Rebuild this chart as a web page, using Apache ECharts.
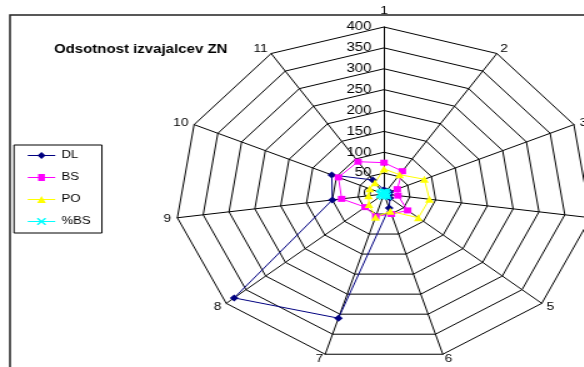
<!DOCTYPE html>
<html>
<head>
<meta charset="utf-8">
<script src="https://cdn.jsdelivr.net/npm/echarts@6/dist/echarts.min.js"></script>
<style>
  html, body { margin: 0; padding: 0; background: #fff; overflow: hidden; width: 584px; height: 367px; }
  /* the original picture is stretched sideways, so the whole chart is too */
  #chart { position: absolute; left: 0; top: 0; width: 467px; height: 367px; transform: scaleX(1.25); transform-origin: 0 0; }
</style>
</head>
<body>
<div id="chart"></div>
<script>
const categories = ['1', '2', '3', '4', '5', '6', '7', '8', '9', '10', '11'];
const dl = [10, 8, 12, 10, 15, 35, 310, 380, 100, 110, 40];
const bs = [75, 65, 28, 27, 60, 50, 56, 48, 82, 96, 92];
const po = [60, 55, 85, 88, 87, 43, 58, 38, 30, 30, 32];
const pbs = [4, 6, 3, 5, 8, 4, 6, 5, 7, 6, 5];
const ticks = [0, 50, 100, 150, 200, 250, 300, 350, 400];

const font = 'Liberation Sans, Arial, sans-serif';
const cx = 307.2, cy = 194, r = 167;

// echarts radar runs counter-clockwise, Excel runs clockwise
const order = [0, 10, 9, 8, 7, 6, 5, 4, 3, 2, 1];
const pick = arr => order.map(i => arr[i]);

const xMark = 'path://M0,0L1,0L3.5,2.5L6,0L7,0L7,1L4.5,3.5L7,6L7,7L6,7L3.5,4.5L1,7L0,7L0,6L2.5,3.5L0,1Z';
const icons = {
    DL: 'path://M0,3H8.2L11,0L13.8,3H22V4H13.8L11,7L8.2,4H0Z',
    BS: 'path://M0,3H8.3V0H13.7V3H22V4H13.7V7H8.3V4H0Z',
    PO: 'path://M0,3H9.5L11,0L12.5,3H22V4H13L14.5,7H7.5L9,4H0Z',
    '%BS': 'path://M0,3H22V4H0Z M7.5,0L8.5,0L11,2.5L13.5,0L14.5,0L14.5,1L12,3.5L14.5,6L14.5,7L13.5,7L11,4.5L8.5,7L7.5,7L7.5,6L10,3.5L7.5,1Z'
};

function mkSeries(name, values, color, symbol, size) {
    return {
        type: 'radar',
        name: name,
        symbol: symbol,
        symbolSize: size,
        lineStyle: { color: color, width: 1 },
        itemStyle: { color: color },
        data: [{ name: name, value: pick(values) }]
    };
}

const chart = echarts.init(document.getElementById('chart'));
chart.setOption({
    animation: false,
    title: {
        text: 'Odsotnost izvajalcev ZN',
        left: 43.2,
        top: 44,
        padding: 0,
        textStyle: { fontFamily: font, fontSize: 12, fontWeight: 'bold', color: '#000' }
    },
    legend: {
        orient: 'vertical',
        left: 11.2,
        top: 145,
        padding: [5, 9, 6, 11],
        itemWidth: 22,
        itemHeight: 7,
        itemGap: 11,
        borderColor: '#000',
        borderWidth: 1,
        selectedMode: false,
        textStyle: { fontFamily: font, fontSize: 10.5, color: '#000' },
        data: ['DL', 'BS', 'PO', '%BS'].map(n => ({ name: n, icon: icons[n] }))
    },
    radar: {
        center: [cx, cy],
        radius: r,
        startAngle: 90,
        shape: 'polygon',
        splitNumber: 8,
        indicator: pick(categories).map(n => ({ name: n, min: 0, max: 400 })),
        nameGap: 5,
        axisName: {
            color: '#000',
            fontFamily: font,
            fontSize: 11,
            formatter: n => n === '1' ? '{t|1}' : n,
            rich: { t: { fontFamily: font, fontSize: 11, color: '#000', padding: [0, 0, 6, 0] } }
        },
        splitLine: { lineStyle: { color: '#000', width: 1 } },
        splitArea: { show: false },
        axisLine: { lineStyle: { color: '#000', width: 1 } },
        axisTick: { show: false },
        axisLabel: { show: false }
    },
    // polar only carries the value labels up the first axis
    polar: { center: [cx, cy], radius: r },
    angleAxis: { type: 'value', min: 0, max: 360, startAngle: 90, show: false },
    radiusAxis: {
        type: 'value',
        min: ticks[0],
        max: ticks[ticks.length - 1],
        interval: 50,
        axisLine: { show: false },
        axisTick: { show: false },
        splitLine: { show: false },
        axisLabel: { margin: 10, fontFamily: font, fontSize: 12, color: '#000', showMinLabel: true, showMaxLabel: true }
    },
    graphic: [{
        type: 'rect',
        silent: true,
        z: 100,
        shape: { x: 8, y: 15, width: 600, height: 500 },
        style: { fill: 'none', stroke: '#222', lineWidth: 1.5 }
    }],
    series: [
        mkSeries('DL', dl, '#000080', 'diamond', 7),
        mkSeries('BS', bs, '#FF00FF', 'rect', 6),
        mkSeries('PO', po, '#FFFF00', 'triangle', 7),
        mkSeries('%BS', pbs, '#00FFFF', xMark, 7)
    ]
});
</script>
</body>
</html>
